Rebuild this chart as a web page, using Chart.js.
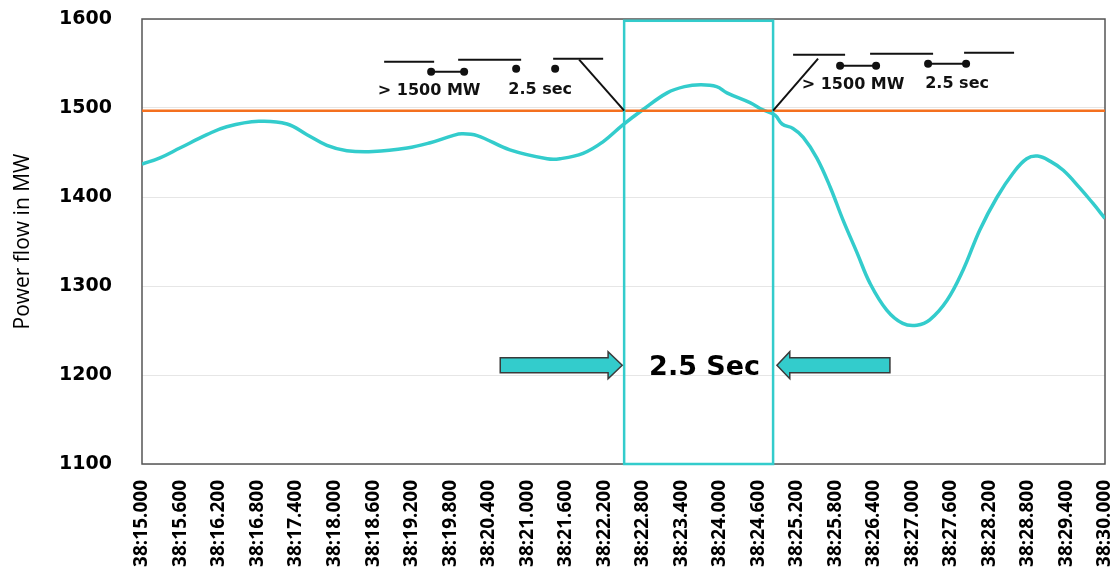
<!DOCTYPE html>
<html>
<head>
<meta charset="utf-8">
<script src="https://cdn.jsdelivr.net/npm/chart.js@4.4.1/dist/chart.umd.min.js"></script>
<style>
  html, body { margin: 0; padding: 0; background: #fff; }
  #wrap { width: 1117px; height: 576px; }
</style>
</head>
<body>
<div id="wrap"><canvas id="powerChart" width="1117" height="576"></canvas></div>
<script>
const timeLabels = [
  "38:15.000", "38:15.600", "38:16.200", "38:16.800", "38:17.400", "38:18.000",
  "38:18.600", "38:19.200", "38:19.800", "38:20.400", "38:21.000", "38:21.600",
  "38:22.200", "38:22.800", "38:23.400", "38:24.000", "38:24.600", "38:25.200",
  "38:25.800", "38:26.400", "38:27.000", "38:27.600", "38:28.200", "38:28.800",
  "38:29.400", "38:30.000",
];
const powerTicks = [1100, 1200, 1300, 1400, 1500, 1600];

// seconds past 38:00
const timeSeconds = [
  15.0, 15.28, 15.59, 16.01, 16.32, 16.82, 17.26, 17.57, 17.88,
  18.19, 18.6, 19.13, 19.49, 19.84, 19.98, 20.22, 20.73, 21.31, 21.51,
  21.87, 22.18, 22.49, 22.8, 23.18, 23.45, 23.7, 23.95, 24.11, 24.47, 24.67,
  24.86, 24.97, 25.14, 25.3, 25.51, 25.72, 25.92, 26.14, 26.34, 26.6,
  26.85, 27.07, 27.27, 27.54, 27.79, 28.05, 28.32, 28.57, 28.78, 28.95,
  29.15, 29.35, 29.61, 29.81, 30.0,
];
const powerMW = [
  1437, 1444, 1455, 1470, 1479, 1485, 1482, 1470, 1458,
  1452, 1451, 1455, 1461, 1469, 1471, 1469, 1453, 1443, 1443,
  1449, 1462, 1481, 1498, 1517, 1524, 1526, 1524, 1517, 1506, 1498,
  1492, 1482, 1477, 1467, 1444, 1411, 1374, 1337, 1303, 1273,
  1258, 1256, 1262, 1284, 1318, 1363, 1400, 1427, 1443, 1446,
  1440, 1430, 1410, 1393, 1376,
];
const thresholdMW = 1497;

// trip window
const windowStart = 22.51;
const windowEnd = 24.83;
const windowLabel = "2.5 Sec";
const arrowMW = 1211;
const leftArrow = [20.58, 22.26, 22.48]; // tail, head base, tip
const rightArrow = [26.65, 25.09, 24.89];
const relayTexts = ["> 1500 MW", "2.5 sec"];

const cyan = "#33CCCC";

function labelToSeconds(label) {
  return parseFloat(label.split(":")[1]);
}

function drawArrow(ctx, x, y, arrow, mw) {
  const tail = x.getPixelForValue(arrow[0]);
  const base = x.getPixelForValue(arrow[1]);
  const tip = x.getPixelForValue(arrow[2]);
  const cy = y.getPixelForValue(mw);
  ctx.beginPath();
  ctx.moveTo(tail, cy - 7.5);
  ctx.lineTo(base, cy - 7.5);
  ctx.lineTo(base, cy - 13.5);
  ctx.lineTo(tip, cy);
  ctx.lineTo(base, cy + 13.5);
  ctx.lineTo(base, cy + 7.5);
  ctx.lineTo(tail, cy + 7.5);
  ctx.closePath();
  ctx.fillStyle = cyan;
  ctx.fill();
  ctx.strokeStyle = "#3a3a3a";
  ctx.lineWidth = 1.5;
  ctx.stroke();
}

function drawRelay(ctx, ax, ay, lines, dots, links, texts) {
  ctx.strokeStyle = "#111";
  ctx.lineWidth = 2;
  lines.concat(links).forEach((l) => {
    ctx.beginPath();
    ctx.moveTo(ax + l[0], ay + l[1]);
    ctx.lineTo(ax + l[2], ay + l[3]);
    ctx.stroke();
  });
  ctx.fillStyle = "#111";
  dots.forEach((d) => {
    ctx.beginPath();
    ctx.arc(ax + d[0], ay + d[1], 4, 0, Math.PI * 2);
    ctx.fill();
  });
  ctx.font = "bold 16px 'DejaVu Sans'";
  ctx.textAlign = "center";
  ctx.textBaseline = "alphabetic";
  texts.forEach((t, i) => {
    ctx.fillText(relayTexts[i], ax + t[0], ay + t[1]);
  });
}

const overlayPlugin = {
  id: "overlay",
  beforeDatasetsDraw(chart) {
    const { ctx, chartArea } = chart;
    ctx.save();
    ctx.strokeStyle = "#555";
    ctx.lineWidth = 1.5;
    ctx.strokeRect(
      chartArea.left,
      chartArea.top,
      chartArea.right - chartArea.left,
      chartArea.bottom - chartArea.top
    );
    ctx.restore();
  },
  afterDatasetsDraw(chart) {
    const { ctx, scales } = chart;
    const x = scales.x;
    const y = scales.y;
    ctx.save();

    // 2.5 s window box
    const bx0 = x.getPixelForValue(windowStart);
    const bx1 = x.getPixelForValue(windowEnd);
    const by0 = y.getPixelForValue(1598);
    const by1 = y.getPixelForValue(1100);
    ctx.strokeStyle = cyan;
    ctx.lineWidth = 2.5;
    ctx.strokeRect(bx0, by0, bx1 - bx0, by1 - by0);

    drawArrow(ctx, x, y, leftArrow, arrowMW);
    drawArrow(ctx, x, y, rightArrow, arrowMW);

    ctx.fillStyle = "#000";
    ctx.font = "bold 27px 'DejaVu Sans'";
    ctx.textAlign = "center";
    ctx.textBaseline = "middle";
    ctx.fillText(windowLabel, (bx0 + bx1) / 2 + 6, y.getPixelForValue(arrowMW) + 3);

    // relay symbols, anchored where they meet the threshold line
    const ay = y.getPixelForValue(thresholdMW);
    drawRelay(
      ctx,
      x.getPixelForValue(windowStart),
      ay,
      [[-240, -49, -190, -49], [-166, -51, -103, -51], [-71, -52, -21, -52], [-45, -51, 0, 0]],
      [[-193, -39], [-160, -39], [-108, -42], [-69, -42]],
      [[-193, -39, -160, -39]],
      [[-195, -16], [-84, -17]]
    );
    drawRelay(
      ctx,
      x.getPixelForValue(windowEnd),
      ay,
      [[20, -56, 72, -56], [97, -57, 160, -57], [191, -58, 241, -58], [0, 0, 45, -52]],
      [[67, -45], [103, -45], [155, -47], [193, -47]],
      [[67, -45, 103, -45], [155, -47, 193, -47]],
      [[80, -22], [184, -23]]
    );
    ctx.restore();
  },
};

const ctx = document.getElementById("powerChart").getContext("2d");
new Chart(ctx, {
  type: "line",
  data: {
    datasets: [
      {
        label: "Threshold",
        data: [
          { x: labelToSeconds(timeLabels[0]), y: thresholdMW },
          { x: labelToSeconds(timeLabels[timeLabels.length - 1]), y: thresholdMW },
        ],
        borderColor: "#F4701F",
        borderWidth: 2.5,
        pointRadius: 0,
      },
      {
        label: "Power flow",
        data: timeSeconds.map((t, i) => ({ x: t, y: powerMW[i] })),
        borderColor: cyan,
        borderWidth: 3.5,
        pointRadius: 0,
        tension: 0.4,
      },
    ],
  },
  options: {
    responsive: false,
    animation: false,
    devicePixelRatio: 1,
    layout: { padding: { top: 19, right: 12, left: 0, bottom: 0 } },
    plugins: {
      legend: { display: false },
      tooltip: { enabled: false },
    },
    scales: {
      x: {
        type: "linear",
        min: labelToSeconds(timeLabels[0]),
        max: labelToSeconds(timeLabels[timeLabels.length - 1]),
        afterBuildTicks: (scale) => {
          scale.ticks = timeLabels.map((l) => ({ value: labelToSeconds(l) }));
        },
        afterFit: (scale) => {
          scale.height = 112;
          scale.paddingLeft = 0;
          scale.paddingRight = 0;
        },
        grid: { display: false, drawTicks: false },
        border: { display: false },
        ticks: {
          autoSkip: false,
          minRotation: 90,
          maxRotation: 90,
          padding: 16,
          color: "#000",
          font: { family: "'Open Sans'", size: 19, weight: "bold" },
          callback: (value, index) => timeLabels[index],
        },
      },
      y: {
        min: powerTicks[0],
        max: powerTicks[powerTicks.length - 1],
        afterBuildTicks: (scale) => {
          scale.ticks = powerTicks.map((v) => ({ value: v }));
        },
        afterFit: (scale) => {
          scale.width = 142;
          scale.paddingTop = 0;
          scale.paddingBottom = 0;
        },
        grid: { color: "#e6e6e6", drawTicks: false },
        border: { display: false },
        ticks: {
          padding: 30,
          color: "#000",
          font: { family: "'DejaVu Sans'", size: 19, weight: "bold" },
          callback: (value) => String(value),
        },
        title: {
          display: true,
          text: "Power flow in MW",
          color: "#000",
          padding: { top: 10, bottom: 0 },
          font: { family: "'Open Sans'", size: 21 },
        },
      },
    },
  },
  plugins: [overlayPlugin],
});
</script>
</body>
</html>
